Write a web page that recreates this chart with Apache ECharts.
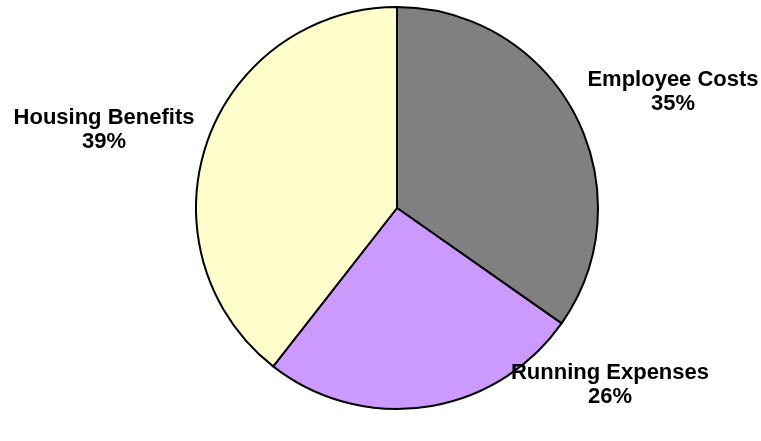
<!DOCTYPE html>
<html>
<head>
<meta charset="utf-8">
<script src="https://cdn.jsdelivr.net/npm/echarts@6/dist/echarts.min.js"></script>
<style>html,body{margin:0;padding:0;background:#fff;}#c{width:761px;height:441px;}</style>
</head>
<body>
<div id="c"></div>
<script>
var categories = ['Employee Costs', 'Running Expenses', 'Housing Benefits'];
var values = [34.7, 25.8, 39.4];
var colors = ['#808080', '#CC99FF', '#FFFFCC'];
var labelSpots = [[673, 92], [610, 385], [104, 130]];

var chart = echarts.init(document.getElementById('c'), null, {renderer: 'canvas'});
chart.setOption({
  animation: false,
  backgroundColor: '#ffffff',
  series: [{
    type: 'pie',
    center: [397, 208],
    radius: 201,
    startAngle: 90,
    clockwise: true,
    avoidLabelOverlap: false,
    data: categories.map(function (c, i) {
      return {name: c, value: values[i], itemStyle: {color: colors[i]}};
    }),
    itemStyle: {borderColor: '#000000', borderWidth: 2},
    label: {
      show: true,
      position: 'outside',
      formatter: function (p) { return p.name + '\n' + Math.round(p.value) + '%'; },
      color: '#000000',
      fontFamily: 'Liberation Sans, Arial, sans-serif',
      fontWeight: 'bold',
      fontSize: 22,
      lineHeight: 24,
      align: 'center'
    },
    labelLine: {show: false},
    labelLayout: function (p) {
      var s = labelSpots[p.dataIndex];
      return {x: s[0], y: s[1], align: 'center', verticalAlign: 'middle'};
    },
    emphasis: {disabled: true}
  }]
});
</script>
</body>
</html>
